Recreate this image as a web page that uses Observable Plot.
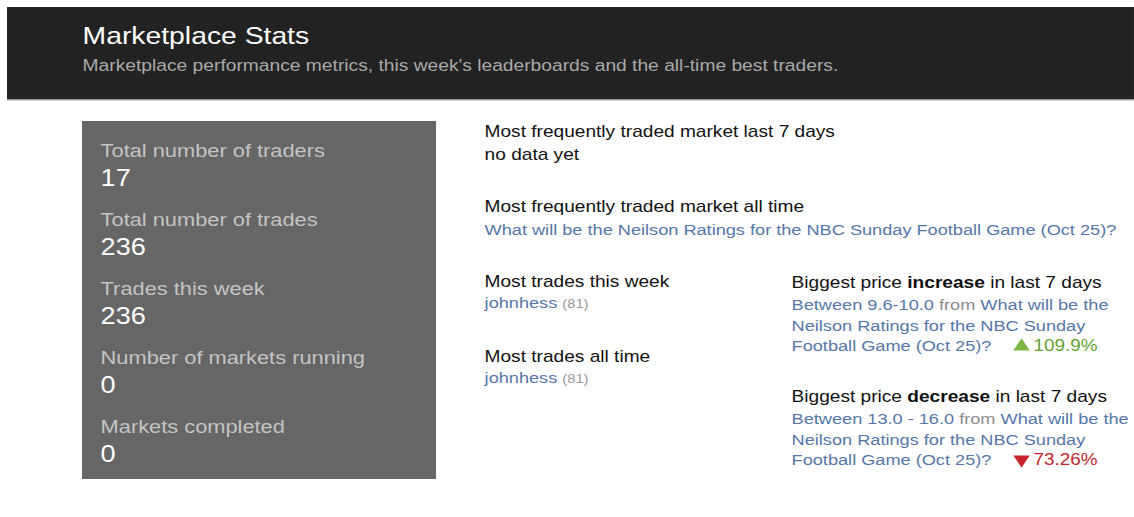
<!DOCTYPE html>
<html>
<head>
<meta charset="utf-8">
<script src="https://cdn.jsdelivr.net/npm/d3@7"></script>
<script src="https://cdn.jsdelivr.net/npm/@observablehq/plot@0.6"></script>
<style>
  html, body { margin: 0; padding: 0; background: #fff; overflow: hidden; }
  #chart { width: 1134px; height: 517px; overflow: hidden; }
  #chart svg { transform: scaleX(1.18); transform-origin: 0 0; display: block; max-width: none !important; }
</style>
</head>
<body>
<div id="chart"></div>
<script>
// ---------------- data ----------------
const pageTitle = "Marketplace Stats";
const pageSubtitle = "Marketplace performance metrics, this week's leaderboards and the all-time best traders.";

const statLabels = ["Total number of traders", "Total number of trades", "Trades this week", "Number of markets running", "Markets completed"];
const statValues = [17, 236, 236, 0, 0];

const marketTitles = ["Most frequently traded market last 7 days", "Most frequently traded market all time"];
const marketNames = ["no data yet", "What will be the Neilson Ratings for the NBC Sunday Football Game (Oct 25)?"];
const marketHasLink = [false, true];

const leaderTitles = ["Most trades this week", "Most trades all time"];
const leaderNames = ["johnhess", "johnhess"];
const leaderCounts = [81, 81];

const moveKinds = ["increase", "decrease"];
const moveRanges = ["9.6-10.0", "13.0 - 16.0"];
const moveMarket = "What will be the Neilson Ratings for the NBC Sunday Football Game (Oct 25)?";
const moveChanges = [109.9, -73.26];

// ---------------- layout & style ----------------
const S = 1.18;               // horizontal stretch of the reference rendering
const W = 1134 / S;
const FONT = "'Liberation Sans', Arial, Helvetica, sans-serif";
const C = {
  header: "#222222", headerLine: "#9a9a9a", panel: "#666666",
  title: "#ffffff", subtitle: "#a9a9a9",
  statLabel: "#c4c4c4", statValue: "#ffffff",
  ink: "#111111", link: "#5577a8", muted: "#8c8c8c",
  up: "#7db543", upText: "#64a232", down: "#c8242b", downText: "#c0272d"
};
const headerBox = {x1: 7, x2: 1134, y1: 7, y2: 99};
const panelBox = {x1: 82, x2: 436, y1: 121, y2: 479};
const wrapBreaks = [4, 10]; // word indices where the market name wraps
const HEAD = 16.2, LINK = 15.4;

// ---------------- build rows ----------------
const rows = [];
rows.push({x: 82, y: 44, text: pageTitle, size: 24, fill: C.title});
rows.push({x: 82, y: 71, text: pageSubtitle, size: 16.3, fill: C.subtitle});

statLabels.forEach((lab, i) => {
  rows.push({x: 100, y: 157 + 69 * i, text: lab, size: 18.5, fill: C.statLabel});
  rows.push({x: 100, y: 186 + 69 * i, text: String(statValues[i]), size: 23, fill: C.statValue});
});

marketTitles.forEach((t, i) => {
  const y0 = 137 + 75 * i;
  rows.push({x: 484, y: y0, text: t, size: HEAD, fill: C.ink});
  rows.push({x: 484, y: y0 + 23, text: marketNames[i], size: marketHasLink[i] ? LINK : HEAD, fill: marketHasLink[i] ? C.link : C.ink});
});

leaderTitles.forEach((t, i) => {
  const y0 = 287 + 75 * i;
  rows.push({x: 484, y: y0, text: t, size: HEAD, fill: C.ink});
  rows.push({x: 484, y: y0 + 21, text: `${leaderNames[i]} ^(${leaderCounts[i]})^`, size: LINK, fill: C.link});
});

const words = moveMarket.split(" ");
const marketLines = [words.slice(0, wrapBreaks[0]), words.slice(wrapBreaks[0], wrapBreaks[1]), words.slice(wrapBreaks[1])].map(w => w.join(" "));
const moveTop = [288, 402];
moveKinds.forEach((k, i) => {
  const y0 = moveTop[i];
  rows.push({x: 791, y: y0, text: `Biggest price *${k}* in last 7 days`, size: HEAD, fill: C.ink});
  rows.push({x: 791, y: y0 + 22, text: `Between ${moveRanges[i]} ~from~ ${marketLines[0]}`, size: LINK, fill: C.link});
  rows.push({x: 791, y: y0 + 42.5, text: marketLines[1], size: LINK, fill: C.link});
  rows.push({x: 791, y: y0 + 63, text: marketLines[2], size: LINK, fill: C.link});
});

const changeRows = moveChanges.map((v, i) => ({
  v, y: moveTop[i] + 63,
  label: `${Math.abs(v)}%`,
  mark: v > 0 ? C.up : C.down,
  color: v > 0 ? C.upText : C.downText
}));

// ---------------- plot ----------------
const chart = Plot.plot({
  width: W, height: 517,
  margin: 0,
  style: {fontFamily: FONT, background: "transparent", overflow: "visible"},
  x: {type: "linear", domain: [0, 1134], range: [0, W], axis: null},
  y: {type: "linear", domain: [0, 517], range: [0, 517], axis: null},
  color: {type: "identity"},
  marks: [
    Plot.rect([headerBox], {x1: "x1", x2: "x2", y1: "y1", y2: "y2", fill: C.header}),
    Plot.rect([headerBox], {x1: "x1", x2: "x2", y1: d => d.y2, y2: d => d.y2 + 1.5, fill: C.headerLine}),
    Plot.rect([panelBox], {x1: "x1", x2: "x2", y1: "y1", y2: "y2", fill: C.panel}),
    Plot.text(rows, {x: "x", y: "y", text: "text", fill: "fill", fontSize: d => d.size,
      textAnchor: "start", lineAnchor: "bottom"}),
    Plot.dot(changeRows, {x: () => 1021, y: d => d.y - (d.v > 0 ? 5 : 6), symbol: "triangle", r: 5.2,
      fill: "mark", rotate: d => d.v > 0 ? 0 : 180, stroke: "none"}),
    Plot.text(changeRows, {x: () => 1033, y: "y", text: "label", fill: "color", fontSize: 16,
      textAnchor: "start", lineAnchor: "bottom"})
  ]
});

// inline rich-text markup: *bold*, ~muted~, ^small muted^
chart.querySelectorAll("text").forEach(t => {
  const s = t.textContent;
  if (!/[*~^]/.test(s)) return;
  t.textContent = "";
  s.split(/(\*[^*]+\*|~[^~]+~|\^[^^]+\^)/).filter(p => p.length).forEach(part => {
    const ts = document.createElementNS("http://www.w3.org/2000/svg", "tspan");
    if (part[0] === "*") { ts.setAttribute("font-weight", "bold"); part = part.slice(1, -1); }
    else if (part[0] === "~") { ts.setAttribute("fill", C.muted); part = part.slice(1, -1); }
    else if (part[0] === "^") { ts.setAttribute("fill", "#9a9a9a"); ts.setAttribute("font-size", "12.5"); part = part.slice(1, -1); }
    ts.textContent = part;
    t.appendChild(ts);
  });
  t.setAttribute("style", (t.getAttribute("style") || "") + ";white-space:pre");
});

document.getElementById("chart").appendChild(chart);
</script>
</body>
</html>
